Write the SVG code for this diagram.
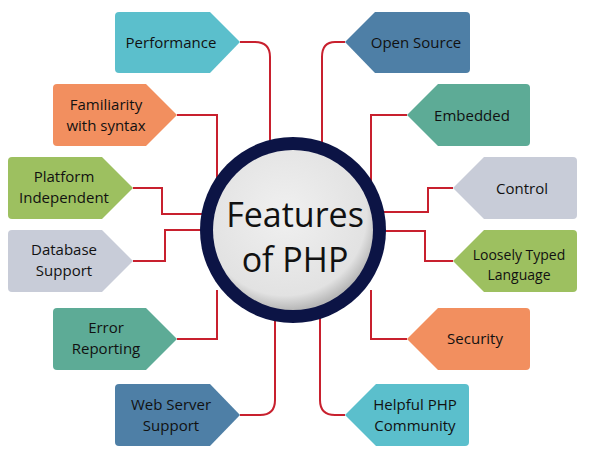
<svg xmlns="http://www.w3.org/2000/svg" width="600" height="458" viewBox="0 0 600 458">
<style>
.t{font-family:"Open Sans","Liberation Sans",sans-serif;font-size:15px;fill:#111;text-anchor:middle}
.c{fill:none;stroke:#c8202e;stroke-width:2}
</style>
<defs><radialGradient id="g" cx="0.45" cy="0.4" r="0.6"><stop offset="0" stop-color="#f0f0f0"/><stop offset="0.85" stop-color="#e2e2e2"/><stop offset="1" stop-color="#b8b8b8"/></radialGradient></defs>
<rect width="600" height="458" fill="#fff"/>
<g id="connectors">
<path class="c" d="M240,42 H255 Q270,42 270,57 V175"/>
<path class="c" d="M177,115 H217 V185"/>
<path class="c" d="M133,188 H162 V214 H215"/>
<path class="c" d="M133,261 H165 V230 H215"/>
<path class="c" d="M177,339 H217 V290"/>
<path class="c" d="M240,415 H260 Q275,415 275,400 V310"/>
<path class="c" d="M345,42 H335 Q322,42 322,57 V175"/>
<path class="c" d="M407,115 H371 V185"/>
<path class="c" d="M453,188 H428 V212 H370"/>
<path class="c" d="M453,261 H425 V231 H370"/>
<path class="c" d="M407,339 H371 V290"/>
<path class="c" d="M345,415 H335 Q320,415 320,400 V310"/>
</g>
<g id="center">
<circle cx="293" cy="230" r="93" fill="#0c1445"/>
<circle cx="293" cy="230" r="80" fill="url(#g)"/>
<text x="295" y="227" style="font-family:'Open Sans','Liberation Sans',sans-serif;font-size:34px;fill:#111;text-anchor:middle">Features</text>
<text x="295" y="272" style="font-family:'Open Sans','Liberation Sans',sans-serif;font-size:34px;fill:#111;text-anchor:middle">of PHP</text>
</g>
<g id="performance"><path d="M119,12 H210 L240,42 L210,73 H119 Q115,73 115,69 V16 Q115,12 119,12Z" fill="#5bbfcc"/><text class="t" x="171" y="48">Performance</text></g>
<g id="familiarity"><path d="M57,84 H146 L177,115 L146,146 H57 Q53,146 53,142 V88 Q53,84 57,84Z" fill="#f28f5f"/><text class="t" x="106" y="110">Familiarity</text><text class="t" x="106" y="131">with syntax</text></g>
<g id="platform"><path d="M12,157 H102 L133,188 L102,219 H12 Q8,219 8,215 V161 Q8,157 12,157Z" fill="#9dc060"/><text class="t" x="64" y="182">Platform</text><text class="t" x="64" y="203">Independent</text></g>
<g id="database"><path d="M12,230 H102 L133,261 L102,292 H12 Q8,292 8,288 V234 Q8,230 12,230Z" fill="#c8ccd8"/><text class="t" x="64" y="255">Database</text><text class="t" x="64" y="276">Support</text></g>
<g id="error"><path d="M57,308 H146 L177,339 L146,370 H57 Q53,370 53,366 V312 Q53,308 57,308Z" fill="#5dab96"/><text class="t" x="106" y="333">Error</text><text class="t" x="106" y="354">Reporting</text></g>
<g id="webserver"><path d="M119,384 H210 L240,415 L210,446 H119 Q115,446 115,442 V388 Q115,384 119,384Z" fill="#4e7fa6"/><text class="t" x="171" y="410">Web Server</text><text class="t" x="171" y="431">Support</text></g>
<g id="opensource"><path d="M466,12 H375 L345,42 L375,73 H466 Q470,73 470,69 V16 Q470,12 466,12Z" fill="#4e7fa6"/><text class="t" x="416" y="48">Open Source</text></g>
<g id="embedded"><path d="M526,84 H438 L407,115 L438,146 H526 Q530,146 530,142 V88 Q530,84 526,84Z" fill="#5dab96"/><text class="t" x="472" y="121">Embedded</text></g>
<g id="control"><path d="M573,157 H484 L453,188 L484,219 H573 Q577,219 577,215 V161 Q577,157 573,157Z" fill="#c8ccd8"/><text class="t" x="522" y="194">Control</text></g>
<g id="loosely"><path d="M573,230 H484 L453,261 L484,292 H573 Q577,292 577,288 V234 Q577,230 573,230Z" fill="#9dc060"/><text class="t" x="519" y="260" style="font-size:14px">Loosely Typed</text><text class="t" x="519" y="280" style="font-size:14px">Language</text></g>
<g id="security"><path d="M526,308 H438 L407,339 L438,370 H526 Q530,370 530,366 V312 Q530,308 526,308Z" fill="#f28f5f"/><text class="t" x="475" y="344">Security</text></g>
<g id="helpful"><path d="M465,384 H376 L345,415 L376,446 H465 Q469,446 469,442 V388 Q469,384 465,384Z" fill="#5bbfcc"/><text class="t" x="415" y="410">Helpful PHP</text><text class="t" x="415" y="431">Community</text></g>
</svg>
